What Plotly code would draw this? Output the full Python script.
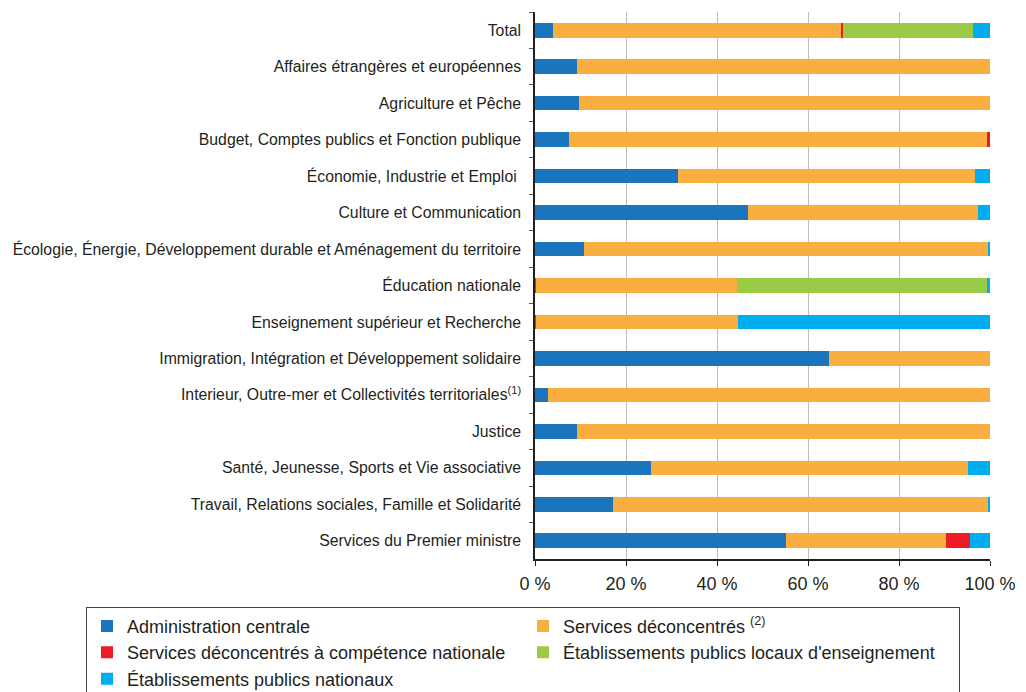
import plotly.graph_objects as go

categories = [
    "Total",
    "Affaires étrangères et européennes",
    "Agriculture et Pêche",
    "Budget, Comptes publics et Fonction publique",
    "Économie, Industrie et Emploi ",
    "Culture et Communication",
    "Écologie, Énergie, Développement durable et Aménagement du territoire",
    "Éducation nationale",
    "Enseignement supérieur et Recherche",
    "Immigration, Intégration et Développement solidaire",
    "Interieur, Outre-mer et Collectivités territoriales<sup>(1)</sup>",
    "Justice",
    "Santé, Jeunesse, Sports et Vie associative",
    "Travail, Relations sociales, Famille et Solidarité",
    "Services du Premier ministre",
]

admin_centrale = [4.0, 9.2, 9.7, 7.4, 31.4, 46.9, 10.8, 0.2, 0.2, 64.6, 2.9, 9.2, 25.5, 17.1, 55.2]
serv_deconc = [63.3, 90.8, 90.3, 91.9, 65.3, 50.5, 88.9, 44.1, 44.5, 35.4, 97.1, 90.8, 69.6, 82.5, 35.1]
serv_deconc_nat = [0.4, 0, 0, 0.7, 0, 0, 0, 0, 0, 0, 0, 0, 0, 0, 5.2]
epl_enseignement = [28.6, 0, 0, 0, 0, 0, 0, 55.0, 0, 0, 0, 0, 0, 0, 0]
ep_nationaux = [3.7, 0, 0, 0, 3.3, 2.6, 0.3, 0.7, 55.3, 0, 0, 0, 4.9, 0.4, 4.5]

series_names = [
    "Administration centrale",
    "Services déconcentrés <sup>(2)</sup>",
    "Services déconcentrés à compétence nationale",
    "Établissements publics locaux d'enseignement",
    "Établissements publics nationaux",
]
series_values = [admin_centrale, serv_deconc, serv_deconc_nat, epl_enseignement, ep_nationaux]
colors = ["#1B75BC", "#FBAE40", "#ED1C24", "#9BCB45", "#00AEEF"]

x_ticks = [0, 20, 40, 60, 80, 100]
x_ticklabels = ["0 %", "20 %", "40 %", "60 %", "80 %", "100 %"]

fig = go.Figure()
for name, vals, col in zip(series_names, series_values, colors):
    fig.add_trace(go.Bar(
        y=categories, x=vals, name=name, orientation="h",
        marker=dict(color=col, line=dict(width=0)),
    ))

# page body has an 8px margin; figure coordinates = page coordinates - 8
W, H = 1018, 684
L, T = 527, 4
R = W - 982
B = H - 551.25
plot_w = W - L - R
plot_h = H - T - B

fig.update_layout(
    barmode="stack",
    bargap=0.6,
    width=W, height=H,
    margin=dict(l=L, r=R, t=T, b=B, pad=0, autoexpand=False),
    paper_bgcolor="white", plot_bgcolor="white",
    font=dict(family="Liberation Sans, Arial, sans-serif", size=16, color="#231F20"),
    showlegend=True,
    legend=dict(
        orientation="h",
        x=(78 - L) / plot_w, y=-(599 - (H - B)) / plot_h,
        xanchor="left", yanchor="top",
        entrywidth=391, entrywidthmode="pixels",
        bordercolor="#444444", borderwidth=1,
        font=dict(size=18, color="#231F20"),
        traceorder="normal",
        itemwidth=30,
        tracegroupgap=0,
    ),
    xaxis=dict(
        range=[0, 100], tickvals=x_ticks, ticktext=x_ticklabels,
        showgrid=True, gridcolor="#BFBFBF", gridwidth=1.3,
        zeroline=False, automargin=False,
        showline=True, linecolor="#231F20", linewidth=1.5,
        ticks="outside", ticklen=5, tickcolor="#231F20",
        ticklabelstandoff=3,
        tickfont=dict(size=18),
    ),
    yaxis=dict(
        categoryorder="array", categoryarray=categories,
        autorange="reversed", automargin=False,
        showline=True, linecolor="#231F20", linewidth=1.5,
        ticks="outside", ticklen=4, tickcolor="#555555",
        tickson="boundaries",
        showgrid=False,
        ticklabelstandoff=9,
        tickfont=dict(size=15.8),
    ),
)

fig.write_html("out.html")
